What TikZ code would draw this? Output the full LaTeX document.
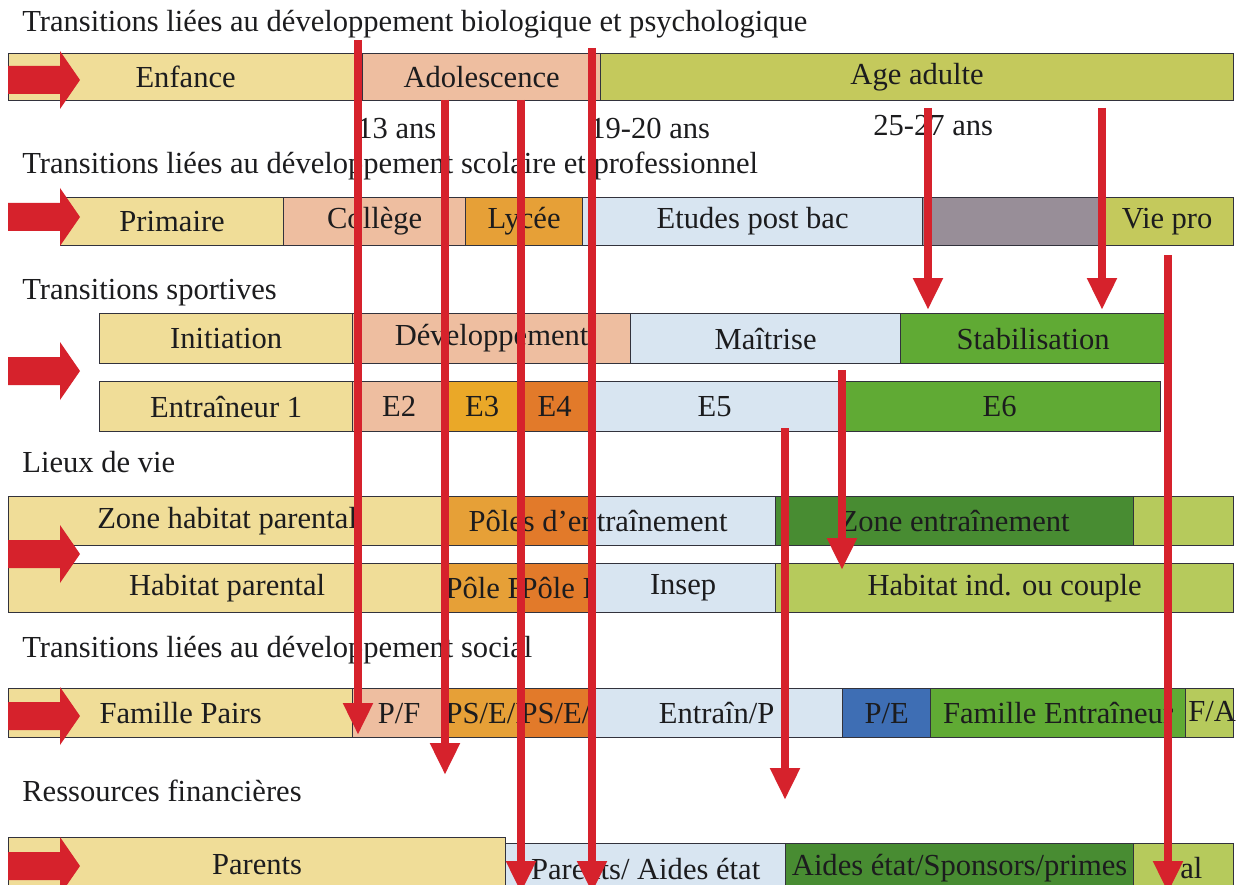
\documentclass[tikz,border=0pt]{standalone}
\usepackage{fontspec}
\setmainfont{Liberation Serif}
\usetikzlibrary{arrows.meta}
\definecolor{cyel}{RGB}{240,221,152}
\definecolor{csal}{RGB}{238,190,160}
\definecolor{colive}{RGB}{196,201,92}
\definecolor{corg}{RGB}{230,160,55}
\definecolor{cgold}{RGB}{234,168,40}
\definecolor{cdorg}{RGB}{226,122,42}
\definecolor{cblue}{RGB}{216,229,241}
\definecolor{cgray}{RGB}{152,142,152}
\definecolor{cgreen}{RGB}{96,170,52}
\definecolor{cdgreen}{RGB}{72,140,50}
\definecolor{clgreen}{RGB}{182,202,92}
\definecolor{cpe}{RGB}{62,110,180}
\definecolor{cred}{RGB}{214,34,44}
\definecolor{ctext}{RGB}{28,28,30}
\definecolor{cline}{RGB}{50,50,60}
\tikzset{
  cellbox/.style={draw=cline, line width=0.7pt, inner sep=0pt, text=ctext, font=\fontsize{17.4}{20}\selectfont},
  lbl/.style={inner sep=0pt, text=ctext, font=\fontsize{17.4}{20}\selectfont},
  redline/.style={draw=cred, line width=0.16cm, -{Triangle[width=0.56cm,length=0.64cm]}},
  blockarrow/.style={fill=cred}
}
% name, x1, x2, ytop, ybot, color, text
\newcommand\cellbox[7]{%
  \pgfmathsetmacro\cw{(#3-#2)*0.02}%
  \pgfmathsetmacro\ch{(#5-#4)*0.02}%
  \node[cellbox, fill=#6, minimum width=\cw cm, minimum height=\ch cm, anchor=north west] (#1) at (#2,#4) {#7};}
% block arrow centred at y
\newcommand\blockarr[1]{%
  \fill[blockarrow] (8,#1-14) -- (60,#1-14) -- (60,#1-29) -- (80,#1) -- (60,#1+29) -- (60,#1+14) -- (8,#1+14) -- cycle;}
\begin{document}
\begin{tikzpicture}[x=0.02cm, y=-0.02cm]
\clip (0,0) rectangle (1247,885);
\fill[white] (0,0) rectangle (1247,885);

% titles
\node[lbl, anchor=base west] (t1) at (22,32) {Transitions liées au développement biologique et psychologique};
\node[lbl, anchor=base west] (t13) at (357,139) {13 ans};
\node[lbl, anchor=base west] (t19) at (590,139) {19-20 ans};
\node[lbl, anchor=base west] (t25) at (873,136) {25-27 ans};
\node[lbl, anchor=base west] (t2) at (22,174) {Transitions liées au développement scolaire et professionnel};
\node[lbl, anchor=base west] (t3) at (22,299) {Transitions sportives};
\node[lbl, anchor=base west] (t4) at (22,472) {Lieux de vie};
\node[lbl, anchor=base west] (t5) at (22,657) {Transitions liées au développement social};
\node[lbl, anchor=base west] (t6) at (22,801) {Ressources financières};

% row 1
\cellbox{enf}{8}{362}{53}{100}{cyel}{Enfance}
\cellbox{ado}{362}{600}{53}{100}{csal}{Adolescence}
\cellbox{adu}{600}{1233}{53}{100}{colive}{Age adulte}
\blockarr{80}

% row 2
\cellbox{pri}{60}{283}{197}{245}{cyel}{Primaire}
\cellbox{col}{283}{465}{197}{245}{csal}{Collège}
\cellbox{lyc}{465}{582}{197}{245}{corg}{Lycée}
\cellbox{epb}{582}{922}{197}{245}{cblue}{Etudes post bac}
\cellbox{gry}{922}{1100}{197}{245}{cgray}{}
\cellbox{vie}{1100}{1233}{197}{245}{colive}{Vie pro}
\blockarr{217}

% row 3
\cellbox{ini}{99}{352}{313}{363}{cyel}{Initiation}
\cellbox{dev}{352}{630}{313}{363}{csal}{Développement}
\cellbox{mai}{630}{900}{313}{363}{cblue}{Maîtrise}
\cellbox{sta}{900}{1165}{313}{363}{cgreen}{Stabilisation}
\cellbox{en1}{99}{352}{381}{431}{cyel}{Entraîneur 1}
\cellbox{e2}{352}{445}{381}{431}{csal}{E2}
\cellbox{e3}{445}{518}{381}{431}{cgold}{E3}
\cellbox{e4}{518}{590}{381}{431}{cdorg}{E4}
\cellbox{e5}{590}{838}{381}{431}{cblue}{E5}
\cellbox{e6}{838}{1160}{381}{431}{cgreen}{E6}
\blockarr{371}

% row 4
\cellbox{zhp}{8}{445}{496}{545}{cyel}{Zone habitat parental}
\cellbox{pe1}{445}{520}{496}{545}{corg}{}
\cellbox{pe2}{520}{590}{496}{545}{cdorg}{}
\cellbox{pe3}{590}{775}{496}{545}{cblue}{}
\node[lbl] (pel) at (598,521) {Pôles d’entraînement};
\cellbox{zen}{775}{1133}{496}{545}{cdgreen}{Zone entraînement}
\cellbox{zlg}{1133}{1233}{496}{545}{clgreen}{}
\cellbox{hp}{8}{445}{563}{612}{cyel}{Habitat parental}
\cellbox{pf}{445}{520}{563}{612}{corg}{Pôle F}
\cellbox{pi}{520}{590}{563}{612}{cdorg}{Pôle I}
\cellbox{ins}{590}{775}{563}{612}{cblue}{Insep}
\cellbox{hic}{775}{1233}{563}{612}{clgreen}{Habitat ind. ou couple}
\blockarr{554}

% row 5
\cellbox{fp}{8}{352}{688}{737}{cyel}{Famille Pairs}
\cellbox{pfc}{352}{445}{688}{737}{csal}{P/F}
\cellbox{ps1}{445}{520}{688}{737}{corg}{PS/E/F}
\cellbox{ps2}{520}{590}{688}{737}{cdorg}{PS/E/F}
\cellbox{ep}{590}{842}{688}{737}{cblue}{Entraîn/P}
\cellbox{pe}{842}{930}{688}{737}{cpe}{P/E}
\cellbox{fe}{930}{1185}{688}{737}{cgreen}{Famille Entraîneur}
\cellbox{fa}{1185}{1233}{688}{737}{clgreen}{}
\node[lbl, anchor=west] (fal) at (1188,712) {F/A};
\blockarr{716}

% row 6
\cellbox{par}{8}{505}{837}{892}{cyel}{Parents}
\cellbox{pae}{505}{785}{843}{893}{cblue}{Parents/ Aides état}
\cellbox{asp}{785}{1133}{843}{893}{cdgreen}{Aides état/Sponsors/primes}
\cellbox{alc}{1133}{1233}{843}{893}{clgreen}{}
\node[lbl, anchor=west] (all) at (1180,868) {al};
\blockarr{866}

% red transition arrows
\coordinate (a1s) at (358,40);   \coordinate (a1e) at (358,735);
\coordinate (a2s) at (445,100);  \coordinate (a2e) at (445,775);
\coordinate (a3s) at (521,100);  \coordinate (a3e) at (521,893);
\coordinate (a4s) at (592,48);   \coordinate (a4e) at (592,893);
\coordinate (a5s) at (928,108);  \coordinate (a5e) at (928,310);
\coordinate (a6s) at (1102,108); \coordinate (a6e) at (1102,310);
\coordinate (a7s) at (1168,255); \coordinate (a7e) at (1168,893);
\coordinate (a8s) at (842,370);  \coordinate (a8e) at (842,570);
\coordinate (a9s) at (785,428);  \coordinate (a9e) at (785,800);
\foreach \i in {1,...,9} {\draw[redline] (a\i s) -- (a\i e);}
\end{tikzpicture}
\end{document}
